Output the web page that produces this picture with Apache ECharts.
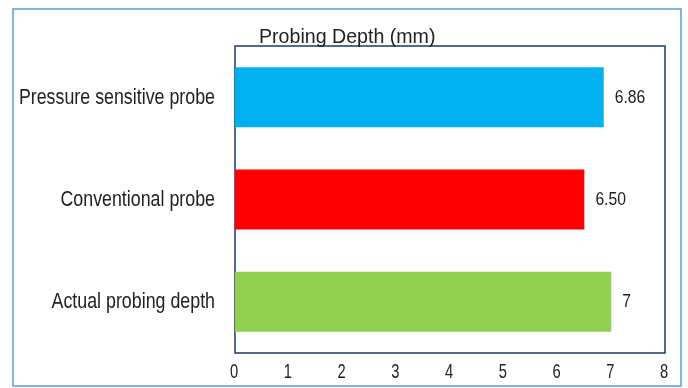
<!DOCTYPE html>
<html>
<head>
<meta charset="utf-8">
<script src="https://cdn.jsdelivr.net/npm/echarts@6/dist/echarts.min.js"></script>
<style>
  html, body { margin: 0; padding: 0; background: #ffffff; }
  #chart { width: 688px; height: 388px; }
</style>
</head>
<body>
<div id="chart"></div>
<script>
// Probing depth comparison (mm)
const categories = ['Actual probing depth', 'Conventional probe', 'Pressure sensitive probe'];
const depths = [7, 6.50, 6.86];
const depthLabels = ['7', '6.50', '6.86'];
const barColors = ['#92d050', '#ff0000', '#00b0f0'];
const xTicks = [0, 1, 2, 3, 4, 5, 6, 7, 8];
const titleText = 'Probing Depth (mm)';

const FONT = '"Liberation Sans", Arial, sans-serif';
const TEXT = '#222222';

const chart = echarts.init(document.getElementById('chart'), null, { renderer: 'canvas' });

chart.setOption({
  backgroundColor: '#ffffff',
  animation: false,
  grid: {
    left: 235, right: 23, top: 46, bottom: 35,
    containLabel: false,
    outerBoundsMode: 'none',
    show: true,
    borderColor: '#203864',
    borderWidth: 1.5,
    backgroundColor: 'transparent'
  },
  xAxis: {
    type: 'value',
    min: xTicks[0],
    max: xTicks[xTicks.length - 1],
    interval: 1,
    splitLine: { show: false },
    axisLine: { show: false },
    axisTick: { show: false },
    axisLabel: { show: false }
  },
  yAxis: {
    type: 'category',
    data: categories,
    axisLine: { show: false },
    axisTick: { show: false },
    axisLabel: { show: false }
  },
  series: [{
    type: 'bar',
    barWidth: 60,
    data: depths.map((v, i) => ({ value: v, itemStyle: { color: barColors[i] } }))
  }]
});

// Condensed text drawn as graphic elements, placed through the axes' own scales
function label(text, x, y, size, sx, align) {
  return {
    type: 'text',
    x: x, y: y,
    scaleX: sx, scaleY: 1,
    silent: true,
    style: {
      text: text,
      fontFamily: FONT,
      fontSize: size,
      fill: TEXT,
      align: align,
      verticalAlign: 'middle'
    }
  };
}

const texts = [];

// frame around the whole figure
texts.push({
  type: 'rect',
  shape: { x: 13, y: 9, width: 668, height: 377 },
  style: { fill: 'none', stroke: '#5b9bd5', lineWidth: 1.5 },
  silent: true
});

// title
texts.push(label(titleText, 259, 37, 20, 0.98, 'left'));

// category labels
categories.forEach((c, i) => {
  const p = chart.convertToPixel({ gridIndex: 0 }, [0, i]);
  texts.push(label(c, p[0] - 20, p[1] + 0.5, 22, 0.81, 'right'));
});

// value labels at bar ends
depths.forEach((v, i) => {
  const p = chart.convertToPixel({ gridIndex: 0 }, [v, i]);
  texts.push(label(depthLabels[i], p[0] + 11, p[1] + 0.5, 18.5, 0.85, 'left'));
});

// x tick labels
xTicks.forEach(t => {
  const x = chart.convertToPixel({ xAxisIndex: 0 }, t);
  texts.push(label(String(t), x - 1, 372, 21, 0.7, 'center'));
});

chart.setOption({ graphic: texts });
</script>
</body>
</html>
